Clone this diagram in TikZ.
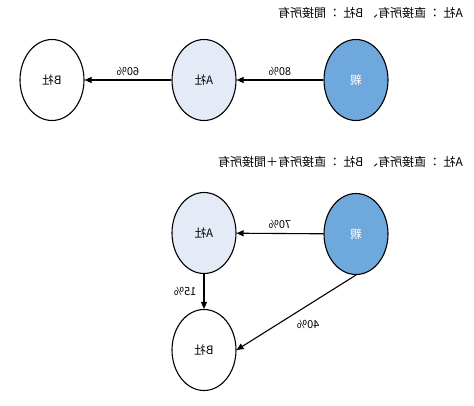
\documentclass[tikz,border=0pt]{standalone}
\usepackage{fontspec}
\usepackage{graphicx}
\setmainfont{Noto Sans CJK JP}
\usetikzlibrary{shapes.geometric,arrows.meta}
\definecolor{parblue}{HTML}{6FA8DC}
\definecolor{subblue}{HTML}{E4EBF6}
\tikzset{
 entity/.style={ellipse,draw=black,line width=1.1pt,minimum width=64pt,minimum height=81pt,inner sep=0pt,font=\fontsize{11.5}{13}\selectfont},
 parentnode/.style={entity,fill=parblue,text=white},
 subnode/.style={entity,fill=subblue},
 plainnode/.style={entity,fill=white},
 link/.style={draw=black,line width=1.1pt,-{Triangle[length=7pt,width=6pt]}},
 pct/.style={font=\fontsize{11}{12}\selectfont,inner sep=1pt},
 titletext/.style={font=\fontsize{12}{14}\selectfont,anchor=east,inner sep=0pt}
}
\begin{document}
\begin{tikzpicture}[x=1pt,y=-1pt]
\useasboundingbox (0,0) rectangle (474,405);
% top diagram
\node[titletext] (t1) at (463,13) {\reflectbox{A社 ： 直接所有、 B社 ： 間接所有}};
\node[parentnode] (p1) at (356,80) {\reflectbox{親}};
\node[subnode] (a1) at (204,80) {\reflectbox{A社}};
\node[plainnode] (b1) at (52,80) {\reflectbox{B社}};
\draw[link] (p1) -- (a1) node[pct,midway,above=3pt] (l80) {\reflectbox{80\%}};
\draw[link] (a1) -- (b1) node[pct,midway,above=3pt] (l60) {\reflectbox{60\%}};
% bottom diagram
\node[titletext] (t2) at (463,162) {\reflectbox{A社 ： 直接所有、 B社 ： 直接所有＋間接所有}};
\node[parentnode] (p2) at (356,234) {\reflectbox{親}};
\node[subnode] (a2) at (204,233) {\reflectbox{A社}};
\node[plainnode] (b2) at (204,350) {\reflectbox{B社}};
\draw[link] (p2) -- (a2) node[pct,midway,above=3pt] (l70) {\reflectbox{70\%}};
\draw[link] (a2) -- (b2) node[pct,midway,left=6pt] (l15) {\reflectbox{15\%}};
\draw[link] (p2.south) -- (b2.east) node[pct,pos=0.4,below=14pt] (l40) {\reflectbox{40\%}};
\end{tikzpicture}
\end{document}
